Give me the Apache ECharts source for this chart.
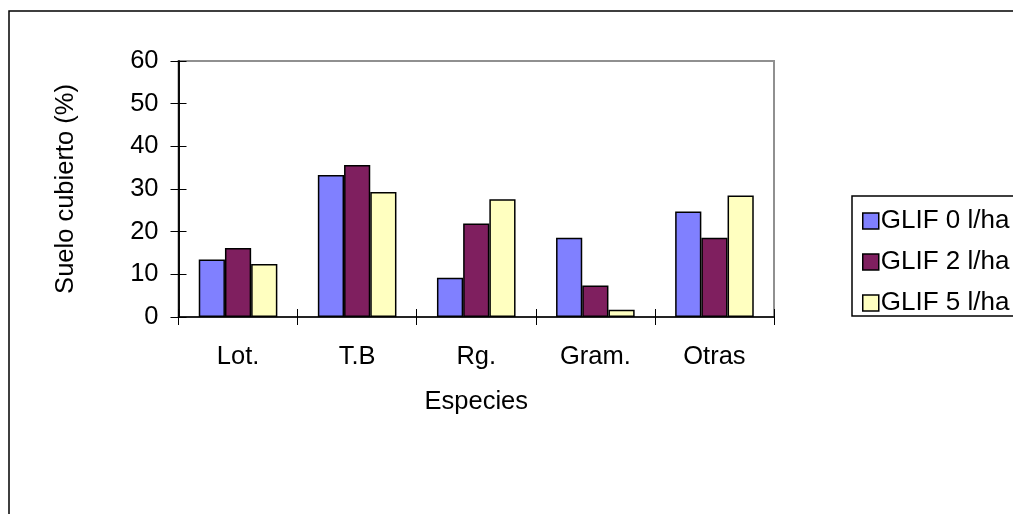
<!DOCTYPE html>
<html>
<head>
<meta charset="utf-8">
<script src="https://cdn.jsdelivr.net/npm/echarts@6/dist/echarts.min.js"></script>
<style>
  html, body { margin: 0; padding: 0; background: #fff; }
  #chart { width: 1013px; height: 514px; }
</style>
</head>
<body>
<div id="chart"></div>
<script>
// Species groups on the x axis
const categories = ['Lot.', 'T.B', 'Rg.', 'Gram.', 'Otras'];

// Soil cover (%) for each glyphosate dose
const glif0 = [13.5, 33.3, 9.2, 18.6, 24.7];
const glif2 = [16.2, 35.6, 21.9, 7.4, 18.6];
const glif5 = [12.4, 29.3, 27.6, 1.7, 28.5];

const seriesNames = ['GLIF 0 l/ha', 'GLIF 2 l/ha', 'GLIF 5 l/ha'];
const yTicks = [0, 10, 20, 30, 40, 50, 60];

const FONT = '"Liberation Sans", Arial, sans-serif';
const FS = 25.5;
const colors = ['#8080FF', '#7F1F5F', '#FFFFC0'];

const chart = echarts.init(document.getElementById('chart'), null, { renderer: 'canvas' });

function barSeries(name, data, color) {
  return {
    name: name,
    type: 'bar',
    data: data,
    barGap: '0%',
    barCategoryGap: '34%',
    itemStyle: { color: color, borderColor: '#000', borderWidth: 1.5 },
    emphasis: { disabled: true }
  };
}

const yAxisBase = {
  type: 'value',
  min: yTicks[0],
  max: yTicks[yTicks.length - 1],
  interval: 10,
  splitLine: { show: false },
  axisLine: { show: true, lineStyle: { color: '#000', width: 1.5 } }
};

chart.setOption({
  animation: false,
  textStyle: { fontFamily: FONT },
  graphic: [
    {
      type: 'rect',
      shape: { x: 9, y: 11, width: 1100, height: 600 },
      style: { fill: 'none', stroke: '#000', lineWidth: 1.5 },
      silent: true
    },
    {
      type: 'rect',
      shape: { x: 852, y: 196, width: 220, height: 120 },
      style: { fill: 'none', stroke: '#000', lineWidth: 1.5 },
      silent: true
    }
  ],
  grid: {
    left: 178.5, top: 61, right: 239, bottom: 197,
    show: true, borderColor: '#909090', borderWidth: 2, backgroundColor: 'transparent'
  },
  legend: {
    orient: 'vertical',
    left: 862, top: 208,
    padding: 0,
    itemWidth: 16, itemHeight: 16,
    itemGap: 15,
    icon: 'rect',
    selectedMode: false,
    data: seriesNames,
    itemStyle: { borderColor: '#000', borderWidth: 1.5 },
    textStyle: { fontFamily: FONT, fontSize: 26, color: '#000', padding: [0, 0, 0, -3] }
  },
  xAxis: [{
    type: 'category',
    data: categories,
    name: 'Especies',
    nameLocation: 'middle',
    nameGap: 72,
    nameTextStyle: { fontFamily: FONT, fontSize: FS, color: '#000' },
    axisLine: { show: true, lineStyle: { color: '#000', width: 1.5 } },
    axisTick: { show: true, length: 8, lineStyle: { color: '#000', width: 1 } },
    axisLabel: { fontFamily: FONT, fontSize: FS, color: '#000', margin: 27 }
  }, {
    type: 'category',
    data: categories,
    position: 'bottom',
    axisLine: { show: false },
    axisTick: { show: true, inside: true, length: 8, lineStyle: { color: '#000', width: 1 } },
    axisLabel: { show: false }
  }],
  yAxis: [Object.assign({}, yAxisBase, {
    name: 'Suelo cubierto (%)',
    nameLocation: 'middle',
    nameGap: 100,
    nameTextStyle: { fontFamily: FONT, fontSize: FS, color: '#000' },
    axisTick: { show: true, length: 8, lineStyle: { color: '#000', width: 1 } },
    axisLabel: { fontFamily: FONT, fontSize: FS, color: '#000', margin: 20 }
  }), Object.assign({}, yAxisBase, {
    position: 'left',
    axisTick: { show: true, inside: true, length: 8, lineStyle: { color: '#000', width: 1 } },
    axisLabel: { show: false }
  })],
  series: [
    barSeries(seriesNames[0], glif0, colors[0]),
    barSeries(seriesNames[1], glif2, colors[1]),
    barSeries(seriesNames[2], glif5, colors[2])
  ]
});
</script>
</body>
</html>
